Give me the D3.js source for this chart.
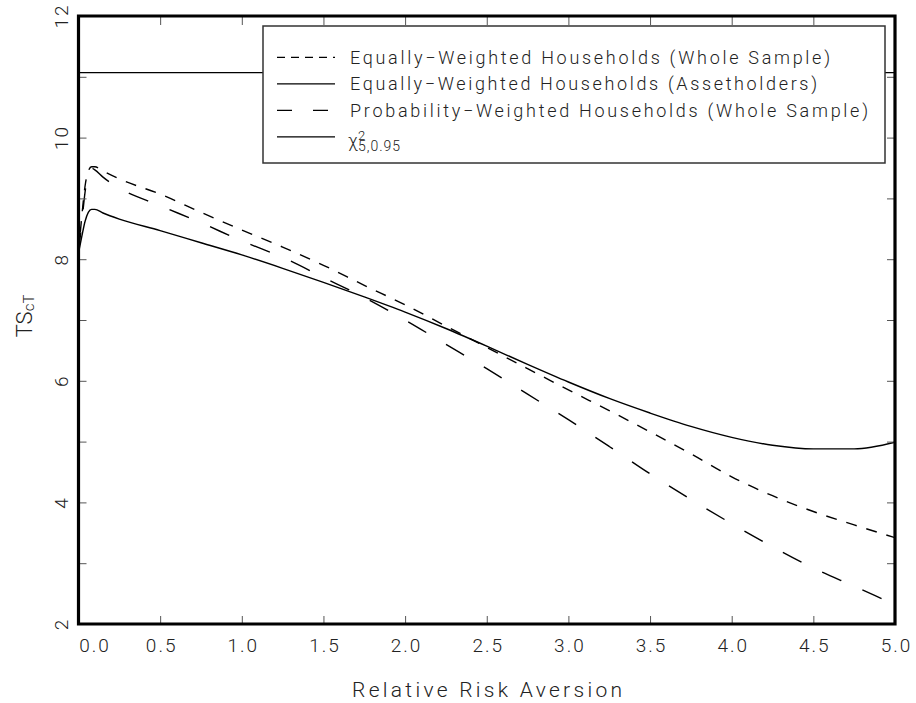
<!DOCTYPE html>
<html>
<head>
<meta charset="utf-8">
<script src="https://cdn.jsdelivr.net/npm/d3@7"></script>
<style>
  body { margin: 0; background: #fff; }
  text { font-family: Roboto, "Liberation Sans", sans-serif; font-weight: 300; fill: #222; }
</style>
</head>
<body>
<svg id="chart" width="916" height="703"></svg>
<script>
// relative risk aversion grid
const rra = [0, 0.02, 0.04, 0.06, 0.08, 0.1, 0.15, 0.25, 0.5, 0.75, 1.0, 1.25, 1.5, 1.75,
  2.0, 2.25, 2.5, 2.75, 3.0, 3.25, 3.5, 3.75, 4.0, 4.25, 4.5, 4.75, 5.0];

// test statistic values
const equalWhole = [8.1, 8.7, 9.2, 9.45, 9.52, 9.52, 9.45, 9.32, 9.07, 8.77, 8.48, 8.2, 7.9, 7.57,
  7.25, 6.9, 6.55, 6.2, 5.85, 5.51, 5.16, 4.8, 4.42, 4.11, 3.85, 3.63, 3.42];
const equalAsset = [8.1, 8.37, 8.62, 8.77, 8.82, 8.82, 8.76, 8.66, 8.47, 8.27, 8.07, 7.85, 7.62, 7.38,
  7.13, 6.86, 6.57, 6.27, 5.98, 5.71, 5.47, 5.25, 5.07, 4.94, 4.88, 4.88, 4.99];
const probWhole = [8.1, 8.6, 9.1, 9.42, 9.5, 9.47, 9.35, 9.17, 8.88, 8.6, 8.3, 8.03, 7.7, 7.37,
  7.0, 6.6, 6.2, 5.78, 5.36, 4.92, 4.47, 4.05, 3.65, 3.27, 2.92, 2.62, 2.32];
const chiCritical = 11.07;

const seriesNames = [
  "Equally\u2212Weighted Households (Whole Sample)",
  "Equally\u2212Weighted Households (Assetholders)",
  "Probability\u2212Weighted Households (Whole Sample)"
];

const xTicks = [0, 0.5, 1, 1.5, 2, 2.5, 3, 3.5, 4, 4.5, 5];
const xTickLabels = ["0.0", "0.5", "1.0", "1.5", "2.0", "2.5", "3.0", "3.5", "4.0", "4.5", "5.0"];
const yTicks = [2, 3, 4, 5, 6, 7, 8, 9, 10, 11, 12];
const yTickLabels = ["2", "4", "6", "8", "10", "12"];

const svg = d3.select('#chart');
const plotL = 78.5, plotR = 895, plotT = 16, plotB = 624;

const x = d3.scaleLinear().domain([0, 5]).range([plotL, plotR]);
const y = d3.scaleLinear().domain([2, 12]).range([plotB, plotT]);

svg.append('clipPath').attr('id', 'plotclip')
  .append('rect')
  .attr('x', plotL).attr('y', plotT)
  .attr('width', plotR - plotL).attr('height', plotB - plotT);

const plot = svg.append('g').attr('clip-path', 'url(#plotclip)');

// chi-square critical value
plot.append('line')
  .attr('x1', x(0)).attr('x2', x(5))
  .attr('y1', y(chiCritical)).attr('y2', y(chiCritical))
  .attr('stroke', '#000').attr('stroke-width', 1.3);

const line = d3.line()
  .x((d, i) => x(rra[i]))
  .y(d => y(d))
  .curve(d3.curveMonotoneX);

const styles = [
  { dash: '11,10', legendDash: '8,6' },
  { dash: null, legendDash: null },
  { dash: '21,23', legendDash: '15,21' }
];
const series = [equalWhole, equalAsset, probWhole];

series.forEach((vals, i) => {
  plot.append('path')
    .attr('d', line(vals))
    .attr('fill', 'none')
    .attr('stroke', '#000')
    .attr('stroke-width', 1.4)
    .attr('stroke-dasharray', styles[i].dash);
});

// legend
const lg = svg.append('g');
lg.append('rect')
  .attr('x', 263).attr('y', 26)
  .attr('width', 622).attr('height', 137)
  .attr('fill', '#fff').attr('stroke', '#333').attr('stroke-width', 1.5);

const rowY = [57.3, 83.8, 110.3, 136.8];
const textLen = [480, 467, 518];
seriesNames.forEach((name, i) => {
  lg.append('line')
    .attr('x1', 277).attr('x2', 335)
    .attr('y1', rowY[i]).attr('y2', rowY[i])
    .attr('stroke', '#000').attr('stroke-width', 1.3)
    .attr('stroke-dasharray', styles[i].legendDash);
  lg.append('text')
    .attr('x', 350).attr('y', rowY[i] + 6.5)
    .attr('font-size', 18)
    .attr('textLength', textLen[i])
    .attr('lengthAdjust', 'spacing')
    .text(name);
});
lg.append('line')
  .attr('x1', 277).attr('x2', 335)
  .attr('y1', rowY[3]).attr('y2', rowY[3])
  .attr('stroke', '#000').attr('stroke-width', 1.3);

// chi-square label: one text, superscript and subscript stacked
const chi = lg.append('text').attr('x', 348).attr('y', 147).attr('font-size', 18);
chi.append('tspan').text('\u03c7');
chi.append('tspan').attr('x', 358).attr('dy', -7).attr('font-size', 13).text('2');
chi.append('tspan').attr('x', 358).attr('dy', 11).attr('font-size', 14)
  .attr('letter-spacing', 1).text('5,0.95');

// ticks pointing inwards on all four sides
const bottomAxis = svg.append('g')
  .attr('transform', `translate(0,${plotB})`)
  .call(d3.axisBottom(x).tickValues(xTicks).tickSize(-8).tickPadding(15)
    .tickFormat((d, i) => xTickLabels[i]));
svg.append('g')
  .attr('transform', `translate(0,${plotT})`)
  .call(d3.axisTop(x).tickValues(xTicks).tickSize(-9).tickFormat(''));
svg.append('g')
  .attr('transform', `translate(${plotL},0)`)
  .call(d3.axisLeft(y).tickValues(yTicks).tickSize(-8).tickFormat(''));
svg.append('g')
  .attr('transform', `translate(${plotR},0)`)
  .call(d3.axisRight(y).tickValues(yTicks).tickSize(-8).tickFormat(''));

svg.selectAll('.domain').remove();
svg.selectAll('.tick line').attr('stroke', '#555').attr('stroke-width', 1);

bottomAxis.selectAll('text')
  .attr('font-size', 19)
  .attr('font-family', null)
  .attr('fill', '#222')
  .attr('letter-spacing', 2)
  .attr('dx', (d, i) => i === 0 ? 16 : 1);

// heavy frame round the plot, drawn last
svg.append('path')
  .attr('d', `M${plotL},${plotT}H${plotR}V${plotB}H${plotL}Z`)
  .attr('fill', 'none')
  .attr('stroke', '#000')
  .attr('stroke-width', 3.2)
  .attr('stroke-linejoin', 'miter');

// y tick labels, rotated
svg.append('g').selectAll('text')
  .data(yTickLabels)
  .enter()
  .append('text')
  .attr('transform', d => `translate(61.5,${y(+d)}) rotate(-90)`)
  .attr('text-anchor', 'middle')
  .attr('dy', '0.35em')
  .attr('font-size', 19)
  .attr('letter-spacing', 2)
  .text(d => d);

// axis titles
svg.append('text')
  .attr('x', 487).attr('y', 697)
  .attr('text-anchor', 'middle')
  .attr('font-size', 21)
  .attr('textLength', 270)
  .attr('lengthAdjust', 'spacing')
  .text('Relative Risk Aversion');

const yTitle = svg.append('text')
  .attr('transform', 'translate(32,316) rotate(-90)')
  .attr('text-anchor', 'middle')
  .attr('font-size', 22);
yTitle.append('tspan').text('TS');
yTitle.append('tspan').attr('font-size', 15).attr('dy', 2).text('cT');
</script>
</body>
</html>
